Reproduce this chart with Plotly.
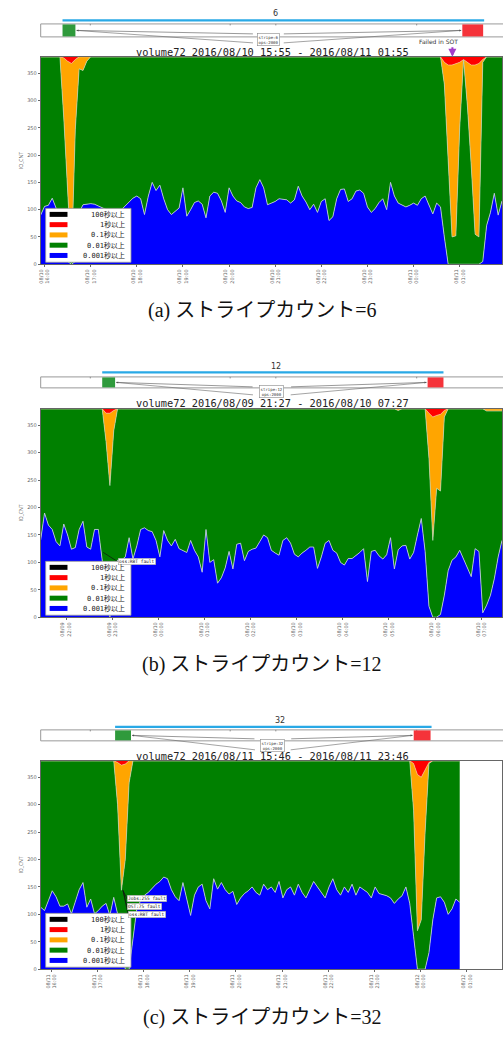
import plotly.graph_objects as go

W, H = 503, 1039
TOTAL = 380  # I/O count per sample: the stack always fills to this value

series_names = ["0.001秒以上", "0.01秒以上", "0.1秒以上", "1秒以上", "100秒以上"]
series_colors = ["#0000ff", "#008000", "#ffa500", "#ff0000", "#000000"]

# ---------------- panel (a) stripe 6 : 2016/08/10 15:55 - 08/11 01:55 -------------
t_a = list(range(0, 601, 5))  # minutes since 15:55
blue_a = [90, 106, 108, 121, 103, 60, 20, 5, 0, 5,
          95, 109, 110, 111, 110, 107, 103, 100, 97, 96,
          97, 100, 108, 114, 121, 125, 120, 91, 125, 150,
          135, 145, 120, 100, 91, 97, 103, 140, 88, 100,
          113, 116, 110, 85, 125, 132, 130, 116, 95, 140,
          125, 116, 113, 105, 102, 104, 140, 155, 140, 109,
          112, 115, 120, 119, 118, 112, 118, 143, 125, 114,
          100, 110, 95, 115, 120, 80, 87, 120, 137, 138,
          115, 120, 134, 136, 130, 105, 95, 102, 113, 120,
          100, 150, 125, 112, 109, 105, 108, 112, 108, 120,
          125, 110, 92, 112, 105, 50, 0, 0, 0, 0,
          0, 0, 0, 0, 0, 5, 71, 95, 130, 90,
          116]
orange_a = {30: 110, 35: 237, 40: 365, 45: 128, 50: 22, 55: 25, 60: 8,
            525: 40, 530: 165, 535: 315, 540: 316, 545: 120,
            555: 80, 560: 185, 565: 310, 570: 318, 575: 5}
red_a = {30: 2, 35: 8, 40: 12, 45: 5,
         525: 10, 530: 15, 535: 15, 540: 12, 545: 10, 550: 5,
         555: 10, 560: 15, 565: 15, 570: 12, 575: 5}
black_a = {}
ticks_a = [5, 65, 125, 185, 245, 305, 365, 425, 485, 545]
ticklbl_a = ["08/10<br>16:00", "08/10<br>17:00", "08/10<br>18:00", "08/10<br>19:00",
             "08/10<br>20:00", "08/10<br>21:00", "08/10<br>22:00", "08/10<br>23:00",
             "08/11<br>00:00", "08/11<br>01:00"]

# ---------------- panel (b) stripe 12 : 2016/08/09 21:27 - 08/10 07:27 -------------
t_b = list(range(0, 601, 5))  # minutes since 21:27
blue_b = [141, 190, 168, 160, 138, 130, 170, 150, 124, 127,
          160, 175, 128, 124, 160, 160, 104, 60, 0, 60,
          104, 104, 110, 145, 106, 130, 160, 163, 158, 156,
          140, 110, 158, 140, 130, 142, 125, 122, 118, 140,
          122, 110, 82, 160, 100, 105, 62, 72, 90, 120,
          88, 133, 135, 103, 120, 124, 126, 138, 150, 145,
          122, 117, 113, 140, 145, 135, 115, 110, 117, 122,
          128, 128, 89, 110, 135, 140, 122, 117, 100, 95,
          107, 107, 112, 118, 125, 65, 120, 122, 112, 106,
          114, 145, 88, 123, 130, 131, 106, 118, 150, 180,
          120, 20, 0, 0, 5, 40, 85, 104, 110, 122,
          106, 90, 74, 125, 120, 8, 22, 40, 70, 110,
          140]
orange_b = {85: 52, 90: 132, 95: 37, 465: 3,
            505: 82, 510: 225, 515: 133, 520: 140, 525: 12,
            580: 4, 585: 4, 590: 4, 595: 4, 600: 4}
red_b = {85: 8, 90: 8, 95: 3, 505: 8, 510: 15, 515: 12, 520: 10, 525: 3}
black_b = {}
ticks_b = [33, 93, 153, 213, 273, 333, 393, 453, 513, 573]
ticklbl_b = ["08/09<br>22:00", "08/09<br>23:00", "08/10<br>00:00", "08/10<br>01:00",
             "08/10<br>02:00", "08/10<br>03:00", "08/10<br>04:00", "08/10<br>05:00",
             "08/10<br>06:00", "08/10<br>07:00"]
notes_b = ["oss:RBT fault"]

# ---------------- panel (c) stripe 32 : 2016/08/11 15:46 - 08/11 23:46 -------------
t_c = list(range(0, 546, 5))  # minutes since 15:46
blue_c = [113, 107, 125, 143, 132, 115, 115, 119, 101, 125,
          145, 158, 113, 128, 101, 107, 115, 120, 98, 131,
          101, 50, 0, 0, 60, 110, 125, 135, 140, 148,
          155, 160, 168, 165, 145, 132, 125, 158, 128, 98,
          135, 150, 155, 125, 110, 165, 146, 158, 145, 137,
          142, 118, 130, 138, 143, 150, 140, 135, 155, 145,
          150, 140, 160, 130, 145, 150, 135, 155, 140, 130,
          145, 160, 150, 140, 130, 150, 165, 145, 135, 150,
          140, 155, 135, 150, 145, 140, 130, 150, 138, 136,
          134, 130, 120, 128, 134, 150, 120, 60, 0, 0,
          0, 30, 90, 130, 132, 122, 100, 110, 128, 122]
orange_c = {100: 77, 105: 228, 110: 174, 115: 40,
            485: 85, 490: 285, 495: 260, 500: 115, 505: 2}
red_c = {100: 3, 105: 8, 110: 6, 485: 5, 490: 25, 495: 30, 500: 15, 505: 3}
black_c = {}
ticks_c = [14, 74, 134, 194, 254, 314, 374, 434, 494, 554]
ticklbl_c = ["08/11<br>16:00", "08/11<br>17:00", "08/11<br>18:00", "08/11<br>19:00",
             "08/11<br>20:00", "08/11<br>21:00", "08/11<br>22:00", "08/11<br>23:00",
             "08/12<br>00:00", "08/12<br>01:00"]
notes_c = ["Jobs:255 fault", "OST:75 fault", "oss:RBT fault"]

Y_TICKS = [0, 50, 100, 150, 200, 250, 300, 350]

# ------------------------------------------------------------------------------------
def px(x):
    return x / W


def py(y):
    return 1 - y / H


def text_at(x, y, text, size, color="#222", family="DejaVu Sans", xanchor="center", **kw):
    d = dict(x=px(x), y=py(y), xref="paper", yref="paper", text=text, showarrow=False,
             xanchor=xanchor, yanchor="middle",
             font=dict(size=size, color=color, family=family))
    d.update(kw)
    return d


panels = [
    dict(t=t_a, blue=blue_a, orange=orange_a, red=red_a, black=black_a,
         ticks=ticks_a, lbl=ticklbl_a, top=57, bot=265,
         title="6", title_x=275, title_y=14, line_y=20.5, line_x=(60, 485),
         box_y=(24, 37), green_x=(60, 73), red_x=(463, 484),
         label=(252, 283, 33, 46), label_text="stripe:6<br>ops:2000",
         vol_y=52, vol="volume72 2016/08/10 15:55 - 2016/08/11 01:55",
         cap_y=309, cap="(a)", cnt="6", notes=[], note_pos=[], tip=None),
    dict(t=t_b, blue=blue_b, orange=orange_b, red=red_b, black=black_b,
         ticks=ticks_b, lbl=ticklbl_b, top=410, bot=619,
         title="12", title_x=275, title_y=368, line_y=373.5, line_x=(100, 444),
         box_y=(378, 389), green_x=(100, 113), red_x=(428, 444),
         label=(252, 290, 387, 399), label_text="stripe:12<br>ops:2000",
         vol_y=404, vol="volume72 2016/08/09 21:27 - 2016/08/10 07:27",
         cap_y=664, cap="(b)", cnt="12", notes=notes_b, note_pos=[(116, 563.5)],
         tip=(101, 554)),
    dict(t=t_c, blue=blue_c, orange=orange_c, red=red_c, black=black_c,
         ticks=ticks_c, lbl=ticklbl_c, top=763, bot=972,
         title="32", title_x=279, title_y=723, line_y=729, line_x=(113, 432),
         box_y=(732, 743), green_x=(113, 129), red_x=(414, 431),
         label=(254, 290, 740, 755), label_text="stripe:32<br>ops:2000",
         vol_y=758, vol="volume72 2016/08/11 15:46 - 2016/08/11 23:46",
         cap_y=1018, cap="(c)", cnt="32", notes=notes_c,
         note_pos=[(125, 901.5), (125, 909.5), (126, 917)], tip=(121, 893)),
]

fig = go.Figure()
shapes = []
annotations = []
layout_axes = {}

LINE_COLORS = ["#c9cfe6", "#b8d4b8", "#f3d9a8", "rgba(0,0,0,0)", "rgba(0,0,0,0)"]
LINE_W = [0.8, 0.7, 0.6, 0, 0]

for i, p in enumerate(panels):
    n = i + 1
    xa = "x" if n == 1 else f"x{n}"
    ya = "y" if n == 1 else f"y{n}"
    t = p["t"]
    blue = p["blue"]
    orange = [p["orange"].get(v, 0) for v in t]
    red = [p["red"].get(v, 0) for v in t]
    black = [p["black"].get(v, 0) for v in t]
    green = [TOTAL - b - o - r - k for b, o, r, k in zip(blue, orange, red, black)]
    for s, vals in enumerate([blue, green, orange, red, black]):
        fig.add_trace(go.Scatter(
            x=t, y=vals, name=series_names[s], stackgroup=f"s{n}", mode="lines",
            line=dict(width=LINE_W[s], color=LINE_COLORS[s]),
            fillcolor=series_colors[s], xaxis=xa, yaxis=ya, showlegend=False,
            hoverinfo="skip"))

    xkey = "xaxis" if n == 1 else f"xaxis{n}"
    ykey = "yaxis" if n == 1 else f"yaxis{n}"
    layout_axes[xkey] = dict(
        domain=[px(38), 1.0], range=[0, 600], anchor=ya,
        tickvals=p["ticks"], ticktext=p["lbl"], tickangle=-90,
        tickfont=dict(size=5, color="#666", family="DejaVu Sans"),
        showline=True, linecolor="#666", linewidth=1, mirror=True,
        ticks="outside", ticklen=2, tickcolor="#666",
        showgrid=False, zeroline=False, fixedrange=True)
    layout_axes[ykey] = dict(
        domain=[py(p["bot"]), py(p["top"])], range=[0, TOTAL], anchor=xa,
        tickvals=Y_TICKS, tickfont=dict(size=5, color="#666", family="DejaVu Sans"),
        title=dict(text="IO_CNT", font=dict(size=5, color="#666"), standoff=3),
        showline=True, linecolor="#666", linewidth=1, mirror=True,
        ticks="outside", ticklen=2, tickcolor="#666",
        showgrid=False, zeroline=False, fixedrange=True)

    # ---------- overview strip above the plot ----------
    annotations.append(text_at(p["title_x"], p["title_y"], p["title"], 8, "#333"))
    shapes.append(dict(type="line", xref="paper", yref="paper",
                       x0=px(p["line_x"][0]), x1=px(p["line_x"][1]),
                       y0=py(p["line_y"]), y1=py(p["line_y"]),
                       line=dict(color="#29a9e6", width=2.2)))
    by0, by1 = p["box_y"]
    shapes.append(dict(type="rect", xref="paper", yref="paper",
                       x0=px(38), x1=px(515), y0=py(by1), y1=py(by0),
                       line=dict(color="#999", width=1), fillcolor="white"))
    for tx in (88, 229, 275, 417):
        shapes.append(dict(type="line", xref="paper", yref="paper",
                           x0=px(tx), x1=px(tx), y0=py(by0), y1=py(by0 + 1.5),
                           line=dict(color="#777", width=0.8)))
    shapes.append(dict(type="rect", xref="paper", yref="paper",
                       x0=px(p["green_x"][0]), x1=px(p["green_x"][1]),
                       y0=py(by1 - 0.5), y1=py(by0 + 0.5),
                       line=dict(width=0), fillcolor="#2f9a3c"))
    shapes.append(dict(type="rect", xref="paper", yref="paper",
                       x0=px(p["red_x"][0]), x1=px(p["red_x"][1]),
                       y0=py(by1 - 0.5), y1=py(by0 + 0.5),
                       line=dict(width=0), fillcolor="#f5333a"))
    lx0, lx1, ly0, ly1 = p["label"]
    ym = (by0 + by1) / 2
    gx = p["green_x"][1] + 1
    rx = p["red_x"][0] - 1
    annotations.append(dict(x=px(gx), y=py(ym), xref="paper", yref="paper", text="",
                            showarrow=True, ax=lx0 - gx, ay=(ly0 + 1) - ym,
                            arrowhead=2, arrowsize=0.7, arrowwidth=0.6, arrowcolor="#555"))
    annotations.append(dict(x=px(rx), y=py(ym), xref="paper", yref="paper", text="",
                            showarrow=True, ax=lx1 - rx, ay=(ly0 + 1) - ym,
                            arrowhead=2, arrowsize=0.7, arrowwidth=0.6, arrowcolor="#555"))
    shapes.append(dict(type="line", xref="paper", yref="paper",
                       x0=px(gx), x1=px(lx0), y0=py(ym), y1=py(ly1 - 3),
                       line=dict(color="#666", width=0.6)))
    shapes.append(dict(type="line", xref="paper", yref="paper",
                       x0=px(rx), x1=px(lx1), y0=py(ym), y1=py(ly1 - 3),
                       line=dict(color="#666", width=0.6)))
    annotations.append(text_at((lx0 + lx1) / 2, (ly0 + ly1) / 2, p["label_text"], 4, "#333",
                               "DejaVu Sans Mono", bgcolor="white", bordercolor="#888",
                               borderwidth=0.6, borderpad=1))
    annotations.append(text_at(272, p["vol_y"], p["vol"], 10.3, "#222", "DejaVu Sans Mono"))

    # ---------- fault notes inside the plot ----------
    for note, (nx, ny) in zip(p["notes"], p["note_pos"]):
        if p["tip"] is not None:
            shapes.append(dict(type="line", xref="paper", yref="paper",
                               x0=px(p["tip"][0]), y0=py(p["tip"][1]),
                               x1=px(nx), y1=py(ny),
                               line=dict(color="#111", width=0.7)))
        annotations.append(text_at(nx, ny, note, 4.5, "#222", "DejaVu Sans Mono",
                                   xanchor="left", bgcolor="white", bordercolor="#999",
                                   borderwidth=0.5, borderpad=0.5))

    # ---------- legend drawn inside the lower-left corner ----------
    lb_bot = p["bot"] - 2
    lb_top = lb_bot - 54
    shapes.append(dict(type="rect", xref="paper", yref="paper",
                       x0=px(43), x1=px(129), y0=py(lb_bot), y1=py(lb_top),
                       line=dict(color="#999", width=0.8), fillcolor="white"))
    order = [4, 3, 2, 1, 0]
    for r, s in enumerate(order):
        cy = lb_top + 6 + r * 10.3
        shapes.append(dict(type="rect", xref="paper", yref="paper",
                           x0=px(47), x1=px(65), y0=py(cy + 2.5), y1=py(cy - 2.5),
                           line=dict(width=0), fillcolor=series_colors[s]))
        annotations.append(text_at(125, cy, series_names[s], 7, "#222",
                                   "DejaVu Sans Mono, Noto Sans CJK JP", xanchor="right"))

    # ---------- caption ----------
    cap = (f"<span style='font-family:Liberation Serif'>{p['cap']} </span>"
           f"ストライプカウント"
           f"<span style='font-family:Liberation Serif'>={p['cnt']}</span>")
    annotations.append(text_at(261, p["cap_y"], cap, 20, "#111", "Noto Sans CJK JP"))

# "Failed in SOT" marker of panel (a)
annotations.append(text_at(439, 42, "Failed in SOT", 6, "#333"))
annotations.append(dict(x=px(453), y=py(57), xref="paper", yref="paper", text="",
                        showarrow=True, ax=0, ay=-11, arrowhead=2, arrowsize=0.8,
                        arrowwidth=2, arrowcolor="#a23cc8"))

fig.update_layout(
    width=W, height=H, margin=dict(l=0, r=0, t=0, b=0),
    paper_bgcolor="white", plot_bgcolor="white",
    shapes=shapes, annotations=annotations, showlegend=False,
    **layout_axes)

fig.write_html("out.html", config={"displayModeBar": False},
               post_script="document.body.style.margin='0';")
